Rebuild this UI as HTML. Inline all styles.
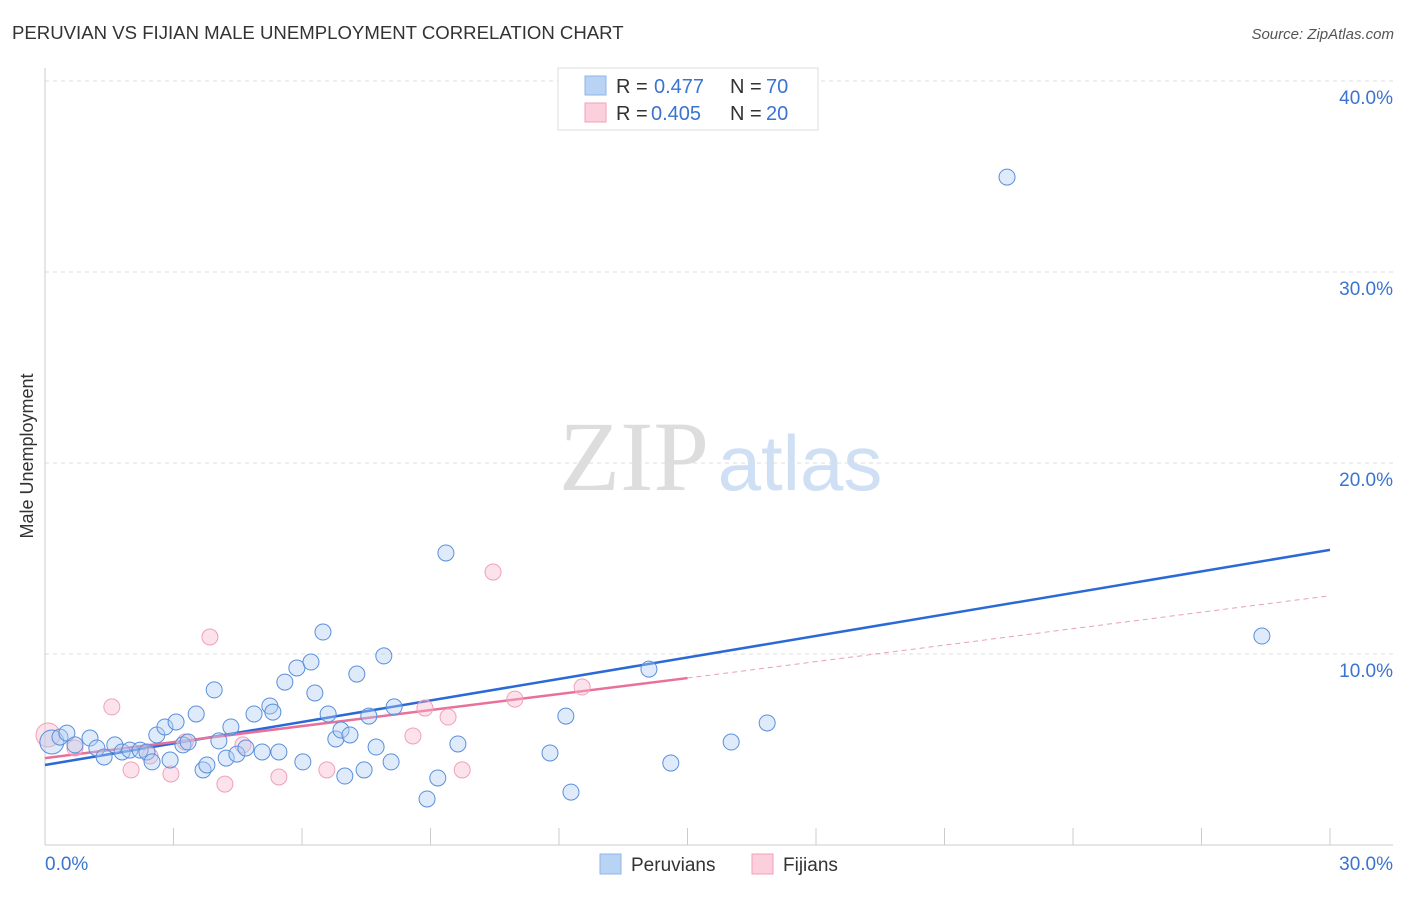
<!DOCTYPE html>
<html><head><meta charset="utf-8">
<style>
body{margin:0;background:#fff;font-family:"Liberation Sans",sans-serif;}
svg text{font-family:"Liberation Sans",sans-serif;}
</style></head>
<body>
<svg id="chart" width="1406" height="892" viewBox="0 0 1406 892" xmlns="http://www.w3.org/2000/svg">
<text x="12" y="39" font-size="18.6" fill="#333">PERUVIAN VS FIJIAN MALE UNEMPLOYMENT CORRELATION CHART</text>
<text x="1394" y="39" font-size="15" fill="#555" font-style="italic" text-anchor="end">Source: ZipAtlas.com</text>
<text x="33" y="456" font-size="18" fill="#333" text-anchor="middle" transform="rotate(-90 33 456)">Male Unemployment</text>
<g>
<text x="634" y="490" font-size="100" fill="#ddd" text-anchor="middle" style="font-family:'Liberation Serif',serif">ZIP</text>
<text x="800" y="490" font-size="78" fill="#cfe0f5" text-anchor="middle">atlas</text>
</g>
<g id="grid"></g>
<g id="axes"></g>
<g id="lines"></g>
<g id="points"></g>
<g>
<rect x="558" y="68" width="260" height="62" fill="#fff" stroke="#ddd"/>
<rect x="585" y="76" width="21" height="19" fill="#b9d3f5" stroke="#8fb5ea"/>
<text x="616" y="93" font-size="20" fill="#333">R = </text><text x="654" y="93" font-size="20" fill="#3a74d0">0.477</text>
<text x="730" y="93" font-size="20" fill="#333">N = </text><text x="766" y="93" font-size="20" fill="#3a74d0">70</text>
<rect x="585" y="103" width="21" height="19" fill="#fbcfdc" stroke="#f0a2b9"/>
<text x="616" y="120" font-size="20" fill="#333">R = </text><text x="651" y="120" font-size="20" fill="#3a74d0">0.405</text>
<text x="730" y="120" font-size="20" fill="#333">N = </text><text x="766" y="120" font-size="20" fill="#3a74d0">20</text>
</g>
<g>
<rect x="600" y="854" width="21" height="20" fill="#b9d3f5" stroke="#8fb5ea"/>
<text x="631" y="871" font-size="19" fill="#333">Peruvians</text>
<rect x="752" y="854" width="21" height="20" fill="#fbcfdc" stroke="#f0a2b9"/>
<text x="783" y="871" font-size="19" fill="#333">Fijians</text>
</g>
</svg>
<script>
const yTicks=[10,20,30,40];
const yTickLabels=["10.0%","20.0%","30.0%","40.0%"];
const xTickLabels=["0.0%","30.0%"];
const peruX=[0.16,0.35,0.51,0.70,1.05,1.21,1.38,1.63,1.80,1.98,2.22,2.38,2.50,2.61,2.80,2.92,3.06,3.22,3.34,3.53,3.69,3.78,3.95,4.06,4.23,4.34,4.48,4.69,4.88,5.07,5.25,5.32,5.46,5.60,5.88,6.02,6.21,6.30,6.49,6.61,6.79,6.91,7.00,7.12,7.28,7.45,7.56,7.73,7.91,8.08,8.15,8.92,9.17,9.36,9.64,11.79,12.16,12.28,14.10,14.61,16.02,16.86,22.46,28.41];
const peruY=[5.39,5.65,5.86,5.24,5.60,5.08,4.61,5.24,4.87,4.97,4.97,4.87,4.35,5.76,6.18,4.45,6.44,5.24,5.39,6.86,3.93,4.19,8.12,5.45,4.55,6.18,4.76,5.08,6.86,4.87,7.28,6.96,4.87,8.53,9.27,4.35,9.58,7.96,11.15,6.86,5.55,6.02,3.61,5.76,8.95,3.93,6.75,5.13,9.90,4.35,7.23,2.41,3.51,15.29,5.29,4.82,6.75,2.77,9.21,4.29,5.39,6.39,34.97,10.94];
const fijiX=[0.07,0.70,1.56,2.01,2.45,2.94,3.27,3.85,4.20,4.62,5.46,6.58,8.59,8.87,9.41,9.74,10.46,10.97,12.54];
const fijiY=[5.76,5.08,7.23,3.93,4.66,3.72,5.39,10.89,3.19,5.24,3.56,3.93,5.71,7.17,6.70,3.93,14.29,7.64,8.27];
const peruTrend=[4.19,15.45]; // y at x=0, x=30
const fijiTrend=[4.55,8.74,13.05]; // y at x=0, x=15, x=30
const NS="http://www.w3.org/2000/svg";
const X=v=>45+v/30*1285, Y=v=>845-v*19.1;
function mk(tag,attrs,parent){const e=document.createElementNS(NS,tag);for(const k in attrs)e.setAttribute(k,attrs[k]);parent.appendChild(e);return e;}
const grid=document.getElementById('grid'),axes=document.getElementById('axes'),lines=document.getElementById('lines'),pts=document.getElementById('points');
yTicks.forEach((t,i)=>{
 const l=mk('line',{x1:45,x2:1393,y1:Y(t),y2:Y(t),stroke:'#ddd','stroke-dasharray':'4,4'},grid);
 
 
 const tx=mk('text',{x:1393,y:Y(t)+23,'font-size':19,fill:'#3a74d0','text-anchor':'end'},axes);
 tx.textContent=yTickLabels[i];
 
 
});
let a=mk('line',{x1:45,x2:45,y1:68,y2:845,stroke:'#ccc'},axes);


a=mk('line',{x1:45,x2:1393,y1:845,y2:845,stroke:'#ccc'},axes);


for(let i=0;i<=10;i++){const tk=mk('line',{x1:X(i*3),x2:X(i*3),y1:828,y2:845,stroke:'#ccc'},axes);
 
 }
let xl=mk('text',{x:45,y:870,'font-size':19,fill:'#3a74d0'},axes);xl.textContent=xTickLabels[0];


xl=mk('text',{x:1393,y:870,'font-size':19,fill:'#3a74d0','text-anchor':'end'},axes);xl.textContent=xTickLabels[1];


fijiX.forEach((x,i)=>{const c=mk('circle',{cx:X(x),cy:Y(fijiY[i]),r:i==0?12:8,fill:'rgba(248,185,205,0.4)',stroke:'#f0a0b8','stroke-width':1},pts);
 
 });
peruX.forEach((x,i)=>{const c=mk('circle',{cx:X(x),cy:Y(peruY[i]),r:i==0?12:8,fill:'rgba(175,205,242,0.4)',stroke:'#5a8fdc','stroke-width':1},pts);
 
 });
let t=mk('line',{x1:X(0),y1:Y(peruTrend[0]),x2:X(30),y2:Y(peruTrend[1]),stroke:'#2a6ad6','stroke-width':2.5},lines);


t=mk('line',{x1:X(0),y1:Y(fijiTrend[0]),x2:X(15),y2:Y(fijiTrend[1]),stroke:'#e8709a','stroke-width':2.5},lines);


t=mk('line',{x1:X(15),y1:Y(fijiTrend[1]),x2:X(30),y2:Y(fijiTrend[2]),stroke:'#e8a0b8','stroke-width':1,'stroke-dasharray':'5,4'},lines);


</script>
</body></html>
